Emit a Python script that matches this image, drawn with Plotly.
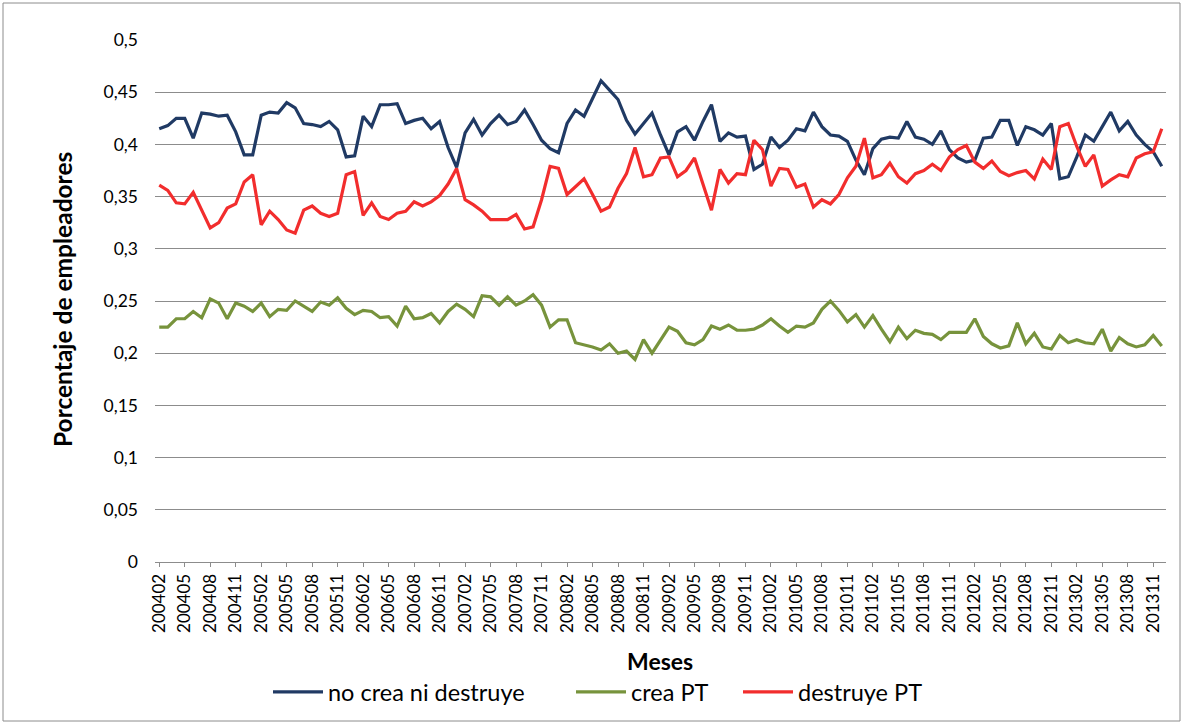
import pandas as pd
import plotly.graph_objects as go

# Categories: months 200402 .. 201312
meses = [p.strftime("%Y%m") for p in pd.period_range("2004-02", "2013-12", freq="M")]

no_crea_ni_destruye = [
    0.415, 0.418, 0.425, 0.425, 0.406, 0.430, 0.429, 0.427, 0.428, 0.412,
    0.390, 0.390, 0.428, 0.431, 0.430, 0.440, 0.435, 0.420, 0.419, 0.417,
    0.422, 0.414, 0.388, 0.389, 0.427, 0.417, 0.438, 0.438, 0.439, 0.420,
    0.423, 0.425, 0.415, 0.422, 0.397, 0.378, 0.411, 0.424, 0.409, 0.420,
    0.428, 0.419, 0.422, 0.433, 0.419, 0.404, 0.396, 0.392, 0.420, 0.433,
    0.427, 0.444, 0.461, 0.452, 0.443, 0.423, 0.410, 0.420, 0.430, 0.409,
    0.390, 0.412, 0.417, 0.404, 0.422, 0.438, 0.403, 0.411, 0.407, 0.408,
    0.376, 0.381, 0.407, 0.397, 0.404, 0.415, 0.413, 0.431, 0.417, 0.409,
    0.408, 0.403, 0.385, 0.371, 0.396, 0.405, 0.407, 0.406, 0.422, 0.407,
    0.405, 0.400, 0.413, 0.395, 0.387, 0.383, 0.385, 0.406, 0.407, 0.423,
    0.423, 0.399, 0.417, 0.414, 0.409, 0.420, 0.367, 0.369, 0.388, 0.409,
    0.403, 0.417, 0.431, 0.413, 0.422, 0.409, 0.400, 0.393, 0.379,
]

crea_pt = [
    0.225, 0.225, 0.233, 0.233, 0.240, 0.234, 0.252, 0.248, 0.233, 0.248,
    0.245, 0.240, 0.248, 0.235, 0.242, 0.241, 0.250, 0.245, 0.240, 0.249,
    0.246, 0.253, 0.243, 0.237, 0.241, 0.240, 0.234, 0.235, 0.226, 0.245,
    0.233, 0.234, 0.238, 0.229, 0.240, 0.247, 0.242, 0.235, 0.255, 0.254,
    0.246, 0.254, 0.246, 0.250, 0.256, 0.246, 0.225, 0.232, 0.232, 0.210,
    0.208, 0.206, 0.203, 0.209, 0.200, 0.202, 0.194, 0.213, 0.200, 0.213,
    0.225, 0.221, 0.210, 0.208, 0.213, 0.226, 0.223, 0.227, 0.222, 0.222,
    0.223, 0.227, 0.233, 0.226, 0.220, 0.226, 0.225, 0.229, 0.242, 0.250,
    0.241, 0.230, 0.237, 0.225, 0.236, 0.223, 0.211, 0.225, 0.214, 0.222,
    0.219, 0.218, 0.213, 0.220, 0.220, 0.220, 0.233, 0.216, 0.209, 0.205,
    0.207, 0.229, 0.209, 0.219, 0.206, 0.204, 0.217, 0.210, 0.213, 0.210,
    0.209, 0.223, 0.202, 0.215, 0.209, 0.206, 0.208, 0.217, 0.207,
]

destruye_pt = [
    0.361, 0.356, 0.344, 0.343, 0.354, 0.337, 0.320, 0.325, 0.339, 0.343,
    0.364, 0.371, 0.323, 0.336, 0.328, 0.318, 0.315, 0.337, 0.341, 0.334,
    0.331, 0.334, 0.371, 0.374, 0.332, 0.344, 0.331, 0.328, 0.334, 0.336,
    0.345, 0.341, 0.345, 0.351, 0.362, 0.377, 0.347, 0.342, 0.336, 0.328,
    0.328, 0.328, 0.333, 0.319, 0.321, 0.347, 0.379, 0.377, 0.352, 0.360,
    0.367, 0.352, 0.336, 0.340, 0.358, 0.372, 0.397, 0.369, 0.371, 0.387,
    0.388, 0.369, 0.375, 0.387, 0.363, 0.337, 0.376, 0.363, 0.372, 0.371,
    0.404, 0.395, 0.360, 0.377, 0.376, 0.359, 0.362, 0.340, 0.347, 0.343,
    0.352, 0.368, 0.379, 0.406, 0.368, 0.371, 0.382, 0.369, 0.363, 0.372,
    0.375, 0.381, 0.375, 0.388, 0.395, 0.399, 0.383, 0.377, 0.384, 0.374,
    0.370, 0.373, 0.375, 0.367, 0.386, 0.376, 0.417, 0.420, 0.398, 0.379,
    0.390, 0.360, 0.366, 0.371, 0.369, 0.387, 0.391, 0.393, 0.415,
]

tick_labels = meses[::3]

series = [
    ("no crea ni destruye", no_crea_ni_destruye, "#203A64", "legend", 268),
    ("crea PT", crea_pt, "#77933C", "legend2", 571),
    ("destruye PT", destruye_pt, "#F22D2D", "legend3", 738),
]

FONT = "Lato, 'Open Sans', sans-serif"

fig = go.Figure()
for name, vals, color, leg, _ in series:
    fig.add_trace(go.Scatter(
        x=meses, y=vals, name=name, mode="lines",
        line=dict(color=color, width=3.2), legend=leg,
    ))

W, H = 1183, 724
L, R, T, B = 155, 17, 40, 162
pw, ph = W - L - R, H - T - B

def px_x(x):
    return (x - L) / pw

def px_y(y):
    return (H - B - y) / ph

legends = {}
for name, vals, color, leg, lx in series:
    legends[leg] = dict(
        orientation="h", x=px_x(lx), xanchor="left",
        y=px_y(692), yanchor="middle",
        font=dict(size=23.5, family=FONT, color="#000"),
        itemwidth=50, bgcolor="rgba(0,0,0,0)",
    )

fig.update_layout(
    width=W, height=H,
    margin=dict(l=L, r=R, t=T, b=B, autoexpand=False),
    paper_bgcolor="white", plot_bgcolor="white",
    separators=", ",
    font=dict(family=FONT, color="#000000"),
    showlegend=True,
    **legends,
    xaxis=dict(
        type="category",
        range=[-0.5, len(meses) - 0.5],
        tickmode="array", tickvals=tick_labels, ticktext=tick_labels,
        tickangle=-90,
        tickfont=dict(size=17, family=FONT, color="#000"),
        showgrid=False, showline=True, linecolor="#8C8C8C", linewidth=1,
        ticks="outside", ticklen=4, tickcolor="#8C8C8C",
        automargin=False, zeroline=False,
    ),
    yaxis=dict(
        range=[0, 0.5], dtick=0.05, tick0=0,
        showgrid=True, gridcolor="#8C8C8C", gridwidth=1,
        tickfont=dict(size=17.5, family=FONT, color="#000"),
        ticks="", ticklabelstandoff=16,
        showline=False, zeroline=False, automargin=False,
    ),
    annotations=[
        dict(text="<b>Meses</b>", xref="paper", yref="paper",
             x=px_x(660), y=px_y(661), xanchor="center", yanchor="middle",
             showarrow=False, font=dict(size=23, family=FONT, color="#000")),
        dict(text="<b>Porcentaje de empleadores</b>", xref="paper", yref="paper",
             x=px_x(62), y=px_y(300), xanchor="center", yanchor="middle",
             textangle=-90, showarrow=False,
             font=dict(size=24.5, family=FONT, color="#000")),
    ],
    shapes=[
        dict(type="rect", xref="paper", yref="paper",
             x0=px_x(3), x1=px_x(1180), y0=px_y(721), y1=px_y(3),
             line=dict(color="#8C8C8C", width=1), fillcolor="rgba(0,0,0,0)",
             layer="above"),
    ],
)

fig.write_html("out.html", config={"displayModeBar": False},
               post_script="document.body.style.margin='0';")
